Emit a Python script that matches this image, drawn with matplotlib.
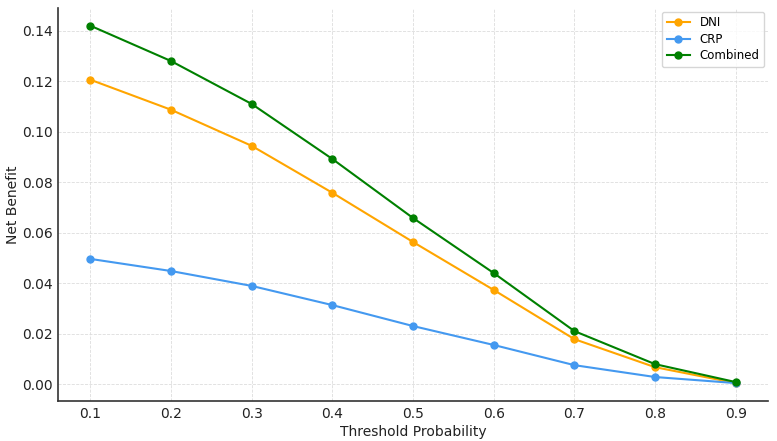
import matplotlib
matplotlib.use("Agg")
import matplotlib.pyplot as plt

# values
thresholds = [0.1, 0.2, 0.3, 0.4, 0.5, 0.6, 0.7, 0.8, 0.9]
dni = [0.1206, 0.1087, 0.0944, 0.0758, 0.0563, 0.0373, 0.0178, 0.0067, 0.0004]
crp = [0.0496, 0.0448, 0.0389, 0.0313, 0.0230, 0.0155, 0.0075, 0.0028, 0.0004]
combined = [0.1420, 0.1280, 0.1110, 0.0892, 0.0658, 0.0440, 0.0210, 0.0079, 0.0008]
yticks = [0.0, 0.02, 0.04, 0.06, 0.08, 0.10, 0.12, 0.14]

fig = plt.figure(figsize=(7.77, 4.41), dpi=100)
ax = fig.add_axes([58 / 777, 40 / 441, 710 / 777, 393 / 441])

ax.plot(thresholds, dni, marker='o', markersize=5, linewidth=1.5, color='#FFA500', label='DNI')
ax.plot(thresholds, crp, marker='o', markersize=5, linewidth=1.5, color='#4499F0', label='CRP')
ax.plot(thresholds, combined, marker='o', markersize=5, linewidth=1.5, color='#008000', label='Combined')

ax.set_xlim(0.06, 0.94)
ax.set_ylim(-0.0067, 0.149)
ax.set_xticks(thresholds)
ax.set_yticks(yticks)
ax.set_yticklabels([f'{v:.2f}' for v in yticks])

ax.set_xlabel('Threshold Probability', fontsize=10, color='#222222', labelpad=3)
ax.set_ylabel('Net Benefit', fontsize=10, color='#222222', labelpad=1)
ax.tick_params(labelsize=10, colors='#222222', length=0, pad=4)

for side in ['top', 'right']:
    ax.spines[side].set_visible(False)
for side in ['left', 'bottom']:
    ax.spines[side].set_color('#333333')
    ax.spines[side].set_linewidth(1.2)

ax.grid(True, linestyle='--', linewidth=0.6, color='#dddddd')
ax.set_axisbelow(True)
ax.legend(loc='upper right', fontsize=8.5, frameon=True, edgecolor='#cccccc',
          labelspacing=0.3, borderaxespad=0.3)

fig.savefig('out.png', dpi=100)
